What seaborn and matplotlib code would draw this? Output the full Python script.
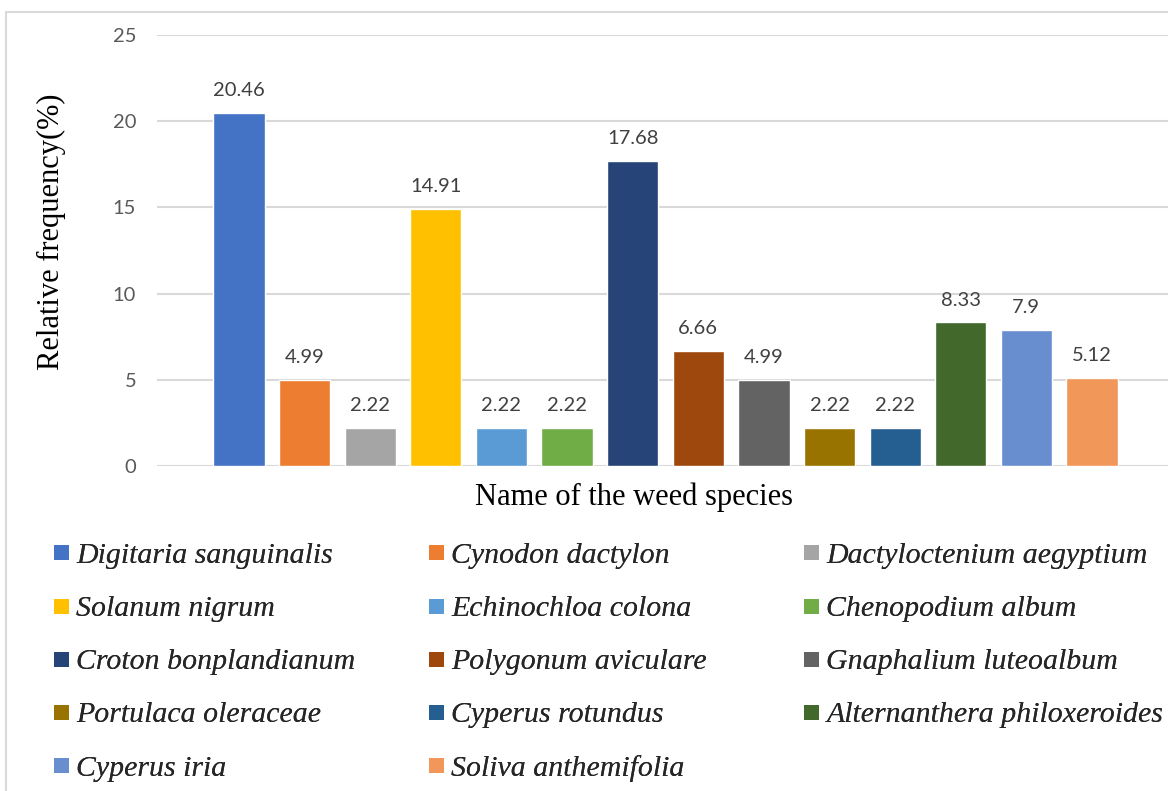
import matplotlib
matplotlib.use("Agg")
import matplotlib.pyplot as plt
from matplotlib.patches import Rectangle
from matplotlib.lines import Line2D
import seaborn as sns
import pandas as pd

species = [
    "Digitaria sanguinalis", "Cynodon dactylon", "Dactyloctenium aegyptium",
    "Solanum nigrum", "Echinochloa colona", "Chenopodium album",
    "Croton bonplandianum", "Polygonum aviculare", "Gnaphalium luteoalbum",
    "Portulaca oleraceae", "Cyperus rotundus", "Alternanthera philoxeroides",
    "Cyperus iria", "Soliva anthemifolia",
]
frequency = [20.46, 4.99, 2.22, 14.91, 2.22, 2.22, 17.68, 6.66, 4.99, 2.22, 2.22, 8.33, 7.9, 5.12]
colors = [
    "#4472C4", "#ED7D31", "#A5A5A5", "#FFC000", "#5B9BD5", "#70AD47",
    "#264478", "#9E480E", "#636363", "#997300", "#255E91", "#43682B",
    "#698ED0", "#F1975A",
]
y_ticks = [0, 5, 10, 15, 20, 25]

df = pd.DataFrame({"species": species, "freq": frequency})

sns.set_theme(style="white")
W, H = 1168, 791
fig = plt.figure(figsize=(W / 100, H / 100), dpi=100)

# outer chart frame
fig.add_artist(Rectangle((6 / W, -0.1), 1.2, 1 - 12 / H + 0.1, transform=fig.transFigure,
                         fill=False, edgecolor="#d9d9d9", linewidth=1.5))

ax = fig.add_axes([157 / W, 1 - 466 / H, (1174 - 157) / W, (466 - 35) / H])
sns.barplot(data=df, x="species", y="freq", hue="species", palette=colors,
            dodge=False, width=0.78, legend=False, saturation=1, ax=ax)

ax.set_xlim(-1.25, 14.25)
ax.set_ylim(0, 25)
ax.set_yticks(y_ticks)
ax.set_xticks([])
ax.set_xlabel("")
ax.set_ylabel("")
for s in ax.spines.values():
    s.set_visible(False)
ax.yaxis.grid(True, color="#d9d9d9", linewidth=1.5)
ax.set_axisbelow(True)
ax.tick_params(axis="y", length=0, pad=15, labelsize=14.5, labelcolor="#595959")
for t in ax.get_yticklabels():
    t.set_fontfamily("Lato")

for cont in ax.containers:
    ax.bar_label(cont, labels=[f"{v:g}" for v in cont.datavalues], padding=10,
                 fontsize=14.5, color="#404040", fontfamily="Lato")

fig.text(51 / W, 1 - 232 / H, "Relative frequency(%)", rotation=90, ha="center", va="center",
         fontsize=22, fontfamily="Liberation Serif", color="black")
fig.text(634 / W, 1 - 497 / H, "Name of the weed species", ha="center", va="center",
         fontsize=22, fontfamily="Liberation Serif", color="black")

# legend laid out row by row in three equal columns
handles = [Line2D([], [], marker="s", linestyle="none", markersize=10.8,
                  markerfacecolor=c, markeredgewidth=0) for c in colors]
col_x = [54, 429, 804]
for ci in range(3):
    idx = list(range(ci, len(species), 3))
    leg = fig.legend([handles[i] for i in idx], [species[i] for i in idx],
                     loc="upper left", bbox_to_anchor=(col_x[ci] / W, 1 - 542 / H),
                     frameon=False, ncol=1, borderpad=0, borderaxespad=0,
                     handlelength=0.5, handletextpad=0.25, labelspacing=0.88,
                     prop={"family": "Liberation Serif", "style": "italic", "size": 21.5})
    fig.add_artist(leg)

fig.savefig("out.png", dpi=100)
